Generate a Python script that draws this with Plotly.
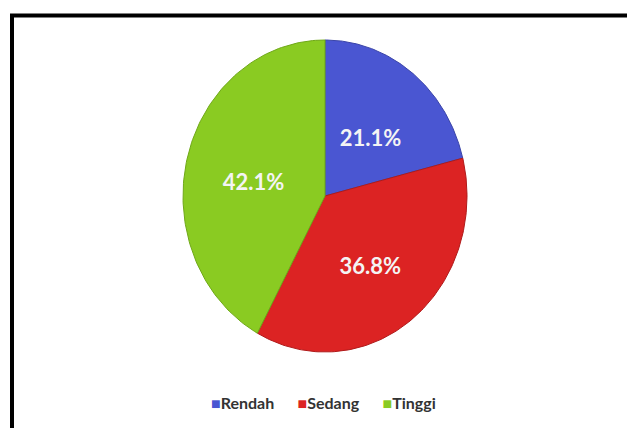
import numpy as np
import plotly.graph_objects as go

# Category shares (percent)
categories = ["Rendah", "Sedang", "Tinggi"]
shares = [21.1, 36.8, 42.1]
colors = ["#4a56d2", "#dc2323", "#8acb22"]
edge_colors = ["#3a44a8", "#b01a1a", "#6fa818"]

W, H = 627, 428
# Pie centre and radii in pixels (slightly taller than wide)
cx, cy, rx, ry = 325, 196, 142, 156

fig = go.Figure()

total = sum(shares)
start = 90.0  # degrees, 12 o'clock, going clockwise
label_x, label_y = [], []
for name, val, col, ecol in zip(categories, shares, colors, edge_colors):
    sweep = 360.0 * val / total
    end = start - sweep
    t = np.radians(np.linspace(start, end, 120))
    xs = np.concatenate([[0.0], np.cos(t), [0.0]])
    ys = np.concatenate([[0.0], np.sin(t), [0.0]])
    fig.add_trace(go.Scatter(
        x=xs, y=ys, mode="lines", fill="toself", fillcolor=col,
        line=dict(color=ecol, width=1), name=name, hoverinfo="skip",
        showlegend=False,
    ))
    mid = np.radians((start + end) / 2)
    label_x.append(0.52 * np.cos(mid))
    label_y.append(0.52 * np.sin(mid) - 0.055)
    start = end

fig.add_trace(go.Scatter(
    x=label_x, y=label_y, mode="text",
    text=[f"{v:.1f}%" for v in shares],
    textfont=dict(family="Lato", size=22, color="#f4f4f4", weight="bold"),
    showlegend=False, hoverinfo="skip",
))

# Legend row: coloured square key followed by the category name
legend_text = "&nbsp;&nbsp;&nbsp;&nbsp;&nbsp;&nbsp;".join(
    f'<span style="color:{c}">■</span>{n}' for n, c in zip(categories, colors)
)

fig.update_xaxes(range=[(0 - cx) / rx, (W - cx) / rx], visible=False, fixedrange=True)
fig.update_yaxes(range=[(cy - H) / ry, cy / ry], visible=False, fixedrange=True)

fig.update_layout(
    width=W, height=H,
    margin=dict(l=0, r=0, t=0, b=0),
    paper_bgcolor="white", plot_bgcolor="white",
    showlegend=False,
    annotations=[dict(
        xref="paper", yref="paper", x=323 / W, y=1 - 402 / H,
        xanchor="center", yanchor="middle", showarrow=False,
        text=legend_text,
        font=dict(family="Lato", size=16, color="#333333", weight="bold"),
    )],
    shapes=[dict(
        type="rect", xref="paper", yref="paper",
        x0=12 / W, x1=1.05, y0=-0.05, y1=1 - 15.5 / H,
        line=dict(color="black", width=4),
    )],
)

fig.write_html("out.html")
